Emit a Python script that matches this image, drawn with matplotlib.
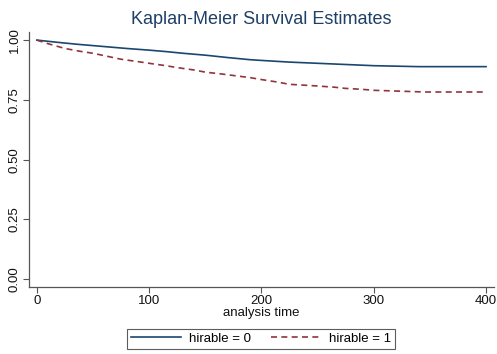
import matplotlib
matplotlib.use("Agg")
import matplotlib.pyplot as plt

plt.rcParams["font.family"] = ["Liberation Sans", "DejaVu Sans"]

# Kaplan-Meier estimates
t_h0 = [0, 10, 20, 35, 50, 65, 80, 100, 115, 130, 150, 170, 190, 200, 225, 250,
        275, 300, 320, 340, 400]
s_h0 = [1.0, 0.995, 0.99, 0.983, 0.977, 0.971, 0.965, 0.958, 0.952, 0.945, 0.937,
        0.927, 0.918, 0.915, 0.908, 0.903, 0.898, 0.893, 0.891, 0.889, 0.889]

t_h1 = [0, 10, 25, 40, 50, 65, 75, 90, 100, 115, 125, 140, 150, 165, 175, 190,
        200, 215, 225, 240, 250, 265, 275, 290, 300, 320, 345, 400]
s_h1 = [1.0, 0.985, 0.965, 0.952, 0.945, 0.93, 0.92, 0.91, 0.903, 0.893, 0.885,
        0.875, 0.866, 0.858, 0.852, 0.843, 0.835, 0.824, 0.815, 0.811, 0.808,
        0.803, 0.798, 0.794, 0.79, 0.787, 0.783, 0.783]

x_ticks = [0, 100, 200, 300, 400]
y_ticks = [0.0, 0.25, 0.5, 0.75, 1.0]
y_labels = ["0.00", "0.25", "0.50", "0.75", "1.00"]

c_blue = "#1a476f"
c_red = "#90353b"
c_axis = "#555555"

fig = plt.figure(figsize=(4.97, 3.54), dpi=100)
ax = fig.add_axes([0.058, 0.189, 0.936, 0.72])

ax.plot(t_h0, s_h0, color=c_blue, lw=1.2, label="hirable = 0")
ax.plot(t_h1, s_h1, color=c_red, lw=1.2, ls=(0, (3.6, 2.6)),
        label="hirable = 1")

ax.set_xlim(-7.1, 407.1)
ax.set_ylim(-0.033, 1.033)
ax.set_xticks(x_ticks)
ax.set_yticks(y_ticks)
ax.set_yticklabels(y_labels, rotation=90, va="center")
ax.tick_params(axis="both", labelsize=9.5, color=c_axis, length=4, width=0.8,
               labelcolor="#111111", pad=2)
for side in ("top", "right"):
    ax.spines[side].set_visible(False)
for side in ("left", "bottom"):
    ax.spines[side].set_color(c_axis)
    ax.spines[side].set_linewidth(0.9)

ax.set_xlabel("analysis time", fontsize=9.5, labelpad=0, color="#111111")
fig.text(0.526, 0.945, "Kaplan-Meier Survival Estimates", ha="center",
         va="center", fontsize=13, color="#1e3f66")

leg = fig.legend(loc="lower center", bbox_to_anchor=(0.525, -0.004), ncol=2,
                 fontsize=9.5, frameon=True, fancybox=False, handlelength=3.8,
                 columnspacing=1.5, borderpad=0.3, handletextpad=0.6)
leg.get_frame().set_edgecolor("#333333")
leg.get_frame().set_linewidth(0.8)

fig.savefig("out.png", dpi=100, facecolor="white")
